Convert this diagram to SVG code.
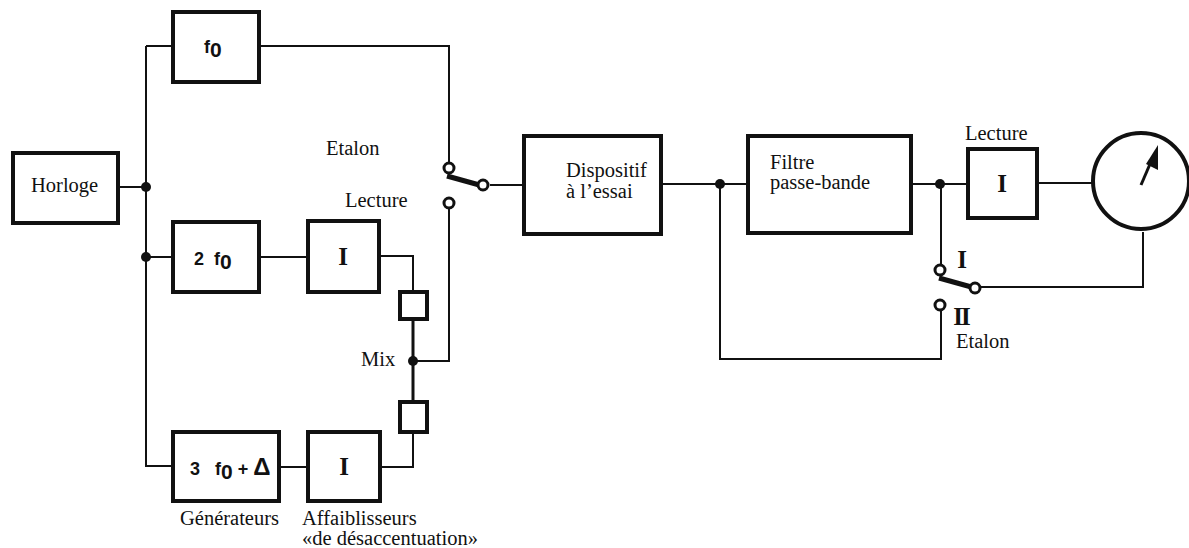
<svg xmlns="http://www.w3.org/2000/svg" width="1189" height="548" viewBox="0 0 1189 548">
<style>
.b{fill:#fff;stroke:#111;stroke-width:4}
.s{fill:#fff;stroke:#111;stroke-width:4}
.l{fill:none;stroke:#111;stroke-width:2}
.d{fill:#111;stroke:none}
.o{fill:#fff;stroke:#111;stroke-width:3}
.t{font-family:"Liberation Serif",serif;font-size:20.5px;fill:#111}
.m{font-family:"Liberation Sans",sans-serif;font-weight:bold;font-size:18px;fill:#111}
.z{font-size:21px}
.r{font-family:"Liberation Serif",serif;font-weight:bold;font-size:25px;fill:#111;text-anchor:middle}
</style>
<rect width="1189" height="548" fill="#fff"/>
<g id="connectors">
<path class="l" d="M118 187H146M146 46H172M146 46V466H172M146 257H172M259 46H449V167M449 208V361H413M259 257H307M380 256H413V293M380 467H413V433M281 467H307M490 185H523M662 184H746M720 184V359H941V306M912 184H967M1039 183H1094M941 184V268M1143 232V287H981"/>
<path d="M413 320V402" fill="none" stroke="#111" stroke-width="3"/>
<path d="M447 176L483 186" fill="none" stroke="#111" stroke-width="5"/>
<path d="M939 278L975 288" fill="none" stroke="#111" stroke-width="5"/>
<circle class="d" cx="146" cy="187" r="5"/><circle class="d" cx="146" cy="257" r="5"/><circle class="d" cx="413" cy="361" r="5"/><circle class="d" cx="720" cy="184" r="5"/><circle class="d" cx="940" cy="184" r="5"/>
<circle class="o" cx="449" cy="168" r="5"/><circle class="o" cx="483" cy="185" r="5"/><circle class="o" cx="449" cy="203" r="5"/><circle class="o" cx="940" cy="270" r="5"/><circle class="o" cx="975" cy="288" r="5"/><circle class="o" cx="940" cy="305" r="5"/>
</g>
<g id="horloge"><rect class="b" x="13" y="153" width="105" height="70"/><text class="t" x="31" y="192">Horloge</text></g>
<g id="f0"><rect class="b" x="173" y="12" width="86" height="70"/><text class="m" x="204" y="53">f<tspan class="z" dy="4">0</tspan></text></g>
<g id="2f0"><rect class="b" x="173" y="222" width="86" height="70"/><text class="m" x="194" y="265" xml:space="preserve">2  f<tspan class="z" dy="4">0</tspan></text></g>
<g id="3f0"><rect class="b" x="173" y="432" width="106" height="69"/><text class="m" x="190" y="475" xml:space="preserve">3   f<tspan class="z" dy="4">0</tspan><tspan dy="-4"> + </tspan><tspan font-size="24">Δ</tspan></text></g>
<g id="att1"><rect class="b" x="308" y="221" width="71" height="71"/><text class="r" x="343" y="265">I</text></g>
<g id="att2"><rect class="b" x="308" y="432" width="72" height="69"/><text class="r" x="344" y="475">I</text></g>
<g id="mix1"><rect class="s" x="400" y="292" width="27" height="27"/></g>
<g id="mix2"><rect class="s" x="400" y="402" width="27" height="30"/></g>
<g id="dut"><rect class="b" x="524" y="136" width="137" height="98"/><text class="t" x="566" y="177">Dispositif</text><text class="t" x="566" y="198">à l’essai</text></g>
<g id="filter"><rect class="b" x="748" y="136" width="163" height="97"/><text class="t" x="770" y="169">Filtre</text><text class="t" x="770" y="189">passe-bande</text></g>
<g id="att3"><rect class="b" x="968" y="149" width="69" height="69"/><text class="r" x="1002" y="192">I</text></g>
<g id="meter"><circle class="b" cx="1141" cy="181" r="48"/><path d="M1141 185L1153 157" stroke="#111" stroke-width="3" fill="none"/><path d="M1158 145L1158 170L1146 164Z" fill="#111"/></g>
<g id="labels">
<text class="t" x="326" y="155">Etalon</text>
<text class="t" x="345" y="207">Lecture</text>
<text class="t" x="361" y="366">Mix</text>
<text class="t" x="180" y="525">Générateurs</text>
<text class="t" x="302" y="525">Affaiblisseurs</text>
<text class="t" x="302" y="545">«de désaccentuation»</text>
<text class="t" x="965" y="140">Lecture</text>
<text class="t" x="956" y="348">Etalon</text>
<text class="r" x="962" y="268">I</text>
<text class="r" x="961" y="325" letter-spacing="-2">II</text>
</g>
</svg>
